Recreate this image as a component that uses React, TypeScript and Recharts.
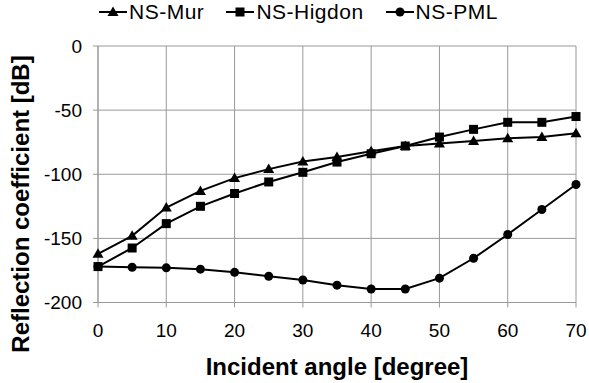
import { CartesianGrid, Legend, Line, LineChart, XAxis, YAxis } from 'recharts';

const angles = [0, 5, 10, 15, 20, 25, 30, 35, 40, 45, 50, 55, 60, 65, 70];
const murValues = [-162, -148, -126, -113, -103, -96, -90, -86.5, -82, -78, -76, -74, -72, -71, -68];
const higdonValues = [-172, -157.5, -138.5, -125, -115, -106, -98.5, -90.5, -84, -78, -71, -65, -59.5, -59.5, -55];
const pmlValues = [-172, -172.5, -173, -174, -176.5, -179.5, -182.5, -186.5, -189.5, -189.5, -181, -165.5, -147, -127.5, -108];
const xTicks = [0, 10, 20, 30, 40, 50, 60, 70];
const yTicks = [0, -50, -100, -150, -200];

const seriesNames = { mur: 'NS-Mur', higdon: 'NS-Higdon', pml: 'NS-PML' };

const chartData = angles.map((angle, i) => ({
  angle,
  mur: murValues[i],
  higdon: higdonValues[i],
  pml: pmlValues[i]
}));

const FONT = '"Liberation Sans", Arial, sans-serif';
const GRID = '#999';

type Shape = 'triangle' | 'square' | 'circle';

function Marker({ shape, cx, cy }: { shape: Shape; cx: number; cy: number }) {
  if (shape === 'triangle') {
    return <path d={`M${cx},${cy - 5.5}L${cx + 5.5},${cy + 4}L${cx - 5.5},${cy + 4}Z`} fill='#000' />;
  }
  if (shape === 'square') {
    return <rect x={cx - 4.5} y={cy - 4.5} width={9} height={9} fill='#000' />;
  }
  return <circle cx={cx} cy={cy} r={4.5} fill='#000' />;
}

const makeDot = (shape: Shape) => (props: any) => (
  <Marker key={`${shape}-${props.index}`} shape={shape} cx={props.cx} cy={props.cy} />
);

const legendItems: { name: string; shape: Shape }[] = [
  { name: seriesNames.mur, shape: 'triangle' },
  { name: seriesNames.higdon, shape: 'square' },
  { name: seriesNames.pml, shape: 'circle' }
];

function renderLegend() {
  return (
    <div
      style={{
        display: 'flex',
        justifyContent: 'center',
        gap: 22,
        fontFamily: FONT,
        fontSize: 21,
        letterSpacing: 0.5,
        color: '#000',
        lineHeight: '24px',
        paddingLeft: 8
      }}
    >
      {legendItems.map(item => (
        <span key={item.name} style={{ display: 'flex', alignItems: 'center' }}>
          <svg width={28} height={14} style={{ marginRight: 2 }}>
            <line x1={0} y1={7} x2={28} y2={7} stroke='#000' strokeWidth={2} />
            <Marker shape={item.shape} cx={14} cy={7} />
          </svg>
          {item.name}
        </span>
      ))}
    </div>
  );
}

function renderXTitle(props: any) {
  const vb = props.viewBox ?? { x: 98, width: 478 };
  return (
    <text
      x={vb.x + vb.width / 2}
      y={375}
      textAnchor='middle'
      fontFamily={FONT}
      fontWeight='bold'
      fontSize={24}
      fill='#000'
    >
      Incident angle [degree]
    </text>
  );
}

function renderYTitle() {
  return (
    <text
      x={29}
      y={204}
      transform='rotate(-90 29 204)'
      textAnchor='middle'
      fontFamily={FONT}
      fontWeight='bold'
      fontSize={24}
      fill='#000'
    >
      Reflection coefficient [dB]
    </text>
  );
}

export default function App() {
  return (
    <div style={{ position: 'absolute', left: 0, top: 0 }}>
      <LineChart width={589} height={383} data={chartData} margin={{ top: 22, right: 13, bottom: 0, left: 0 }}>
        <CartesianGrid stroke={GRID} strokeWidth={1} />
        <XAxis
          dataKey='angle'
          type='number'
          domain={[0, 70]}
          ticks={xTicks}
          height={80.5}
          stroke={GRID}
          tickSize={5}
          tickMargin={16}
          tick={{ fontSize: 19, fill: '#000', fontFamily: FONT }}
          label={renderXTitle}
        />
        <YAxis
          type='number'
          domain={[-200, 0]}
          ticks={yTicks}
          width={98}
          stroke={GRID}
          tickSize={5}
          tickMargin={11}
          tick={{ fontSize: 19, fill: '#000', fontFamily: FONT }}
          label={renderYTitle}
        />
        <Legend verticalAlign='top' content={renderLegend} wrapperStyle={{ top: 0, left: 0, width: 589 }} />
        <Line dataKey='mur' name={seriesNames.mur} stroke='#000' strokeWidth={2} dot={makeDot('triangle')} isAnimationActive={false} />
        <Line dataKey='higdon' name={seriesNames.higdon} stroke='#000' strokeWidth={2} dot={makeDot('square')} isAnimationActive={false} />
        <Line dataKey='pml' name={seriesNames.pml} stroke='#000' strokeWidth={2} dot={makeDot('circle')} isAnimationActive={false} />
      </LineChart>
    </div>
  );
}
